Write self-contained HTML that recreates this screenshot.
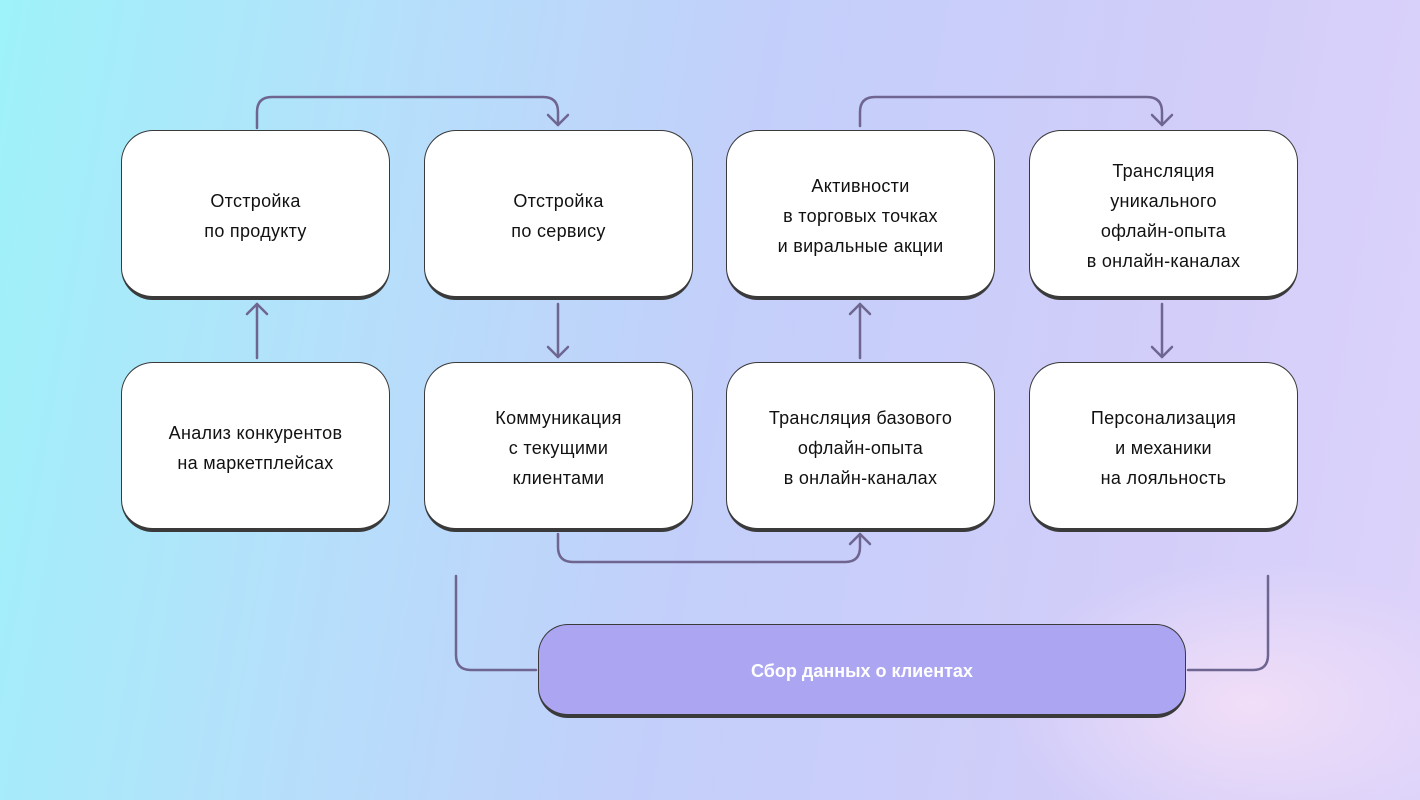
<!DOCTYPE html>
<html><head><meta charset="utf-8"><style>
*{margin:0;padding:0;box-sizing:border-box}
html,body{width:1420px;height:800px;overflow:hidden}
#w{width:1420px;height:800px;overflow:hidden;position:relative;font-family:"Liberation Sans","Noto Sans CJK SC",sans-serif;
background:linear-gradient(100deg,#9ef2f9 0%,#b5e0fb 25%,#c3cffa 50%,#d0cdf9 75%,#ddd3fa 100%);}
.glow{position:absolute;left:1000px;top:560px;width:420px;height:240px;background:radial-gradient(ellipse at 60% 60%,#f1def8 0%,rgba(241,222,248,0) 70%)}
.box{position:absolute;width:269px;height:170px;background:#fff;border:1.5px solid #3a3a3a;border-bottom-width:4px;border-radius:32px;display:flex;align-items:center;justify-content:center;text-align:center;font-size:18px;line-height:30px;color:#111;letter-spacing:0.3px;padding-top:4px}
.pill{position:absolute;left:538px;top:624px;width:648px;height:94px;background:#aca6f2;border:1.5px solid #3a3a3a;border-bottom-width:4px;border-radius:30px;display:flex;align-items:center;justify-content:center;color:#fff;font-size:18px;font-weight:bold;padding-top:3px}
svg{position:absolute;left:0;top:0}
</style></head><body><div id="w">
<div class="glow"></div>
<svg width="1420" height="800" fill="none" stroke="#6e6690" stroke-width="2.5" stroke-linecap="round" stroke-linejoin="round">
<path d="M257 128 V112 Q257 97 272 97 H543 Q558 97 558 112 V125"/><path d="M548 115 L558 125 L568 115"/>
<path d="M860 126 V112 Q860 97 875 97 H1147 Q1162 97 1162 112 V125"/><path d="M1152 115 L1162 125 L1172 115"/>
<path d="M257 358 V304"/><path d="M247 314 L257 304 L267 314"/>
<path d="M558 304 V357"/><path d="M548 347 L558 357 L568 347"/>
<path d="M860 358 V304"/><path d="M850 314 L860 304 L870 314"/>
<path d="M1162 304 V357"/><path d="M1152 347 L1162 357 L1172 347"/>
<path d="M558 534 V547 Q558 562 573 562 H845 Q860 562 860 547 V534"/><path d="M850 544 L860 534 L870 544"/>
<path d="M456 576 V655 Q456 670 471 670 H536"/>
<path d="M1268 576 V655 Q1268 670 1253 670 H1188"/>
</svg>
<div class="box" style="left:121px;top:130px">Отстройка<br>по продукту</div>
<div class="box" style="left:424px;top:130px">Отстройка<br>по сервису</div>
<div class="box" style="left:726px;top:130px">Активности<br>в торговых точках<br>и виральные акции</div>
<div class="box" style="left:1029px;top:130px">Трансляция<br>уникального<br>офлайн-опыта<br>в онлайн-каналах</div>
<div class="box" style="left:121px;top:362px">Анализ конкурентов<br>на маркетплейсах</div>
<div class="box" style="left:424px;top:362px">Коммуникация<br>с текущими<br>клиентами</div>
<div class="box" style="left:726px;top:362px">Трансляция базового<br>офлайн-опыта<br>в онлайн-каналах</div>
<div class="box" style="left:1029px;top:362px">Персонализация<br>и механики<br>на лояльность</div>
<div class="pill">Сбор данных о клиентах</div>
</div></body></html>
